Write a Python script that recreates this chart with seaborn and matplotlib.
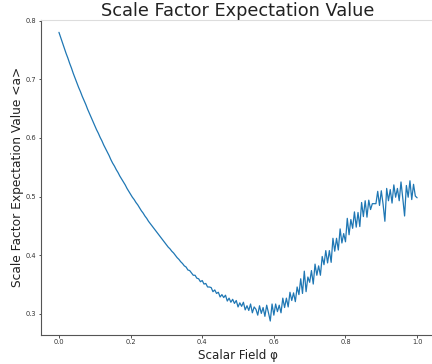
import numpy as np
import pandas as pd
import matplotlib
matplotlib.use("Agg")
import matplotlib.pyplot as plt
import seaborn as sns

# Scale factor expectation value <a>, sampled every 0.005 in phi from 0 to 1
a_smooth = [
    0.780, 0.771, 0.762, 0.753, 0.744, 0.736, 0.727, 0.719, 0.710, 0.702,
    0.694, 0.686, 0.679, 0.671, 0.664, 0.657, 0.649, 0.642, 0.635, 0.628,
    0.621, 0.614, 0.608, 0.601, 0.595, 0.588, 0.582, 0.576, 0.570, 0.563,
    0.557, 0.552, 0.546, 0.541, 0.535, 0.530, 0.525, 0.520, 0.514, 0.509,
    0.504, 0.499, 0.495, 0.490, 0.486, 0.481, 0.476, 0.472, 0.467, 0.463,
    0.458, 0.454, 0.450, 0.446, 0.442, 0.438, 0.434, 0.430, 0.426, 0.422,
    0.418, 0.414, 0.411, 0.407, 0.404, 0.400, 0.396, 0.393, 0.389, 0.386,
    0.382,
]
a_noisy = [
    0.380, 0.375, 0.374, 0.370, 0.366, 0.366, 0.361, 0.360, 0.355, 0.357,
    0.351, 0.352, 0.346, 0.346, 0.345, 0.338, 0.341, 0.335, 0.337, 0.329,
    0.333, 0.328, 0.332, 0.322, 0.327, 0.320, 0.325, 0.318, 0.323, 0.312,
    0.319, 0.313, 0.320, 0.307, 0.314, 0.306, 0.317, 0.302, 0.312, 0.308,
    0.298, 0.314, 0.301, 0.311, 0.296, 0.315, 0.302, 0.288, 0.317, 0.298,
    0.317, 0.304, 0.315, 0.302, 0.327, 0.311, 0.327, 0.312, 0.337, 0.323,
    0.336, 0.321, 0.346, 0.333, 0.360, 0.335, 0.373, 0.338, 0.363, 0.354,
    0.374, 0.351, 0.385, 0.366, 0.382, 0.366, 0.398, 0.384, 0.408, 0.387,
    0.408, 0.388, 0.429, 0.407, 0.429, 0.409, 0.445, 0.421, 0.437, 0.423,
    0.463, 0.435, 0.461, 0.446, 0.474, 0.448, 0.473, 0.449, 0.490, 0.466,
    0.493, 0.465, 0.494, 0.478, 0.488, 0.488, 0.488, 0.509, 0.485, 0.510,
    0.487, 0.458, 0.514, 0.493, 0.512, 0.489, 0.520, 0.499, 0.514, 0.493,
    0.525, 0.497, 0.467, 0.519, 0.499, 0.527, 0.495, 0.521, 0.501, 0.498,
]
a_values = a_smooth + a_noisy
phi_values = np.round(np.arange(len(a_values)) * 0.005, 3)

title = "Scale Factor Expectation Value"
xlabel = "Scalar Field φ"
ylabel = "Scale Factor Expectation Value <a>"

df = pd.DataFrame({"phi": phi_values, "a": a_values})

sns.set_style("ticks")
plt.rcParams["font.family"] = ["DejaVu Sans"]

fig = plt.figure(figsize=(4.32, 3.64), dpi=100)
ax = fig.add_axes([0.095, 0.081, 0.912, 0.864])

sns.lineplot(data=df, x="phi", y="a", ax=ax, color="#1f77b4",
             linewidth=0.9, errorbar=None)

ax.set_xlim(-0.05, 1.05)
ax.set_ylim(0.265, 0.801)
ax.set_xticks([0.0, 0.2, 0.4, 0.6, 0.8, 1.0])
ax.set_yticks([0.3, 0.4, 0.5, 0.6, 0.7, 0.8])
ax.tick_params(labelsize=4.8, colors="#333333", length=1.8, width=0.6, pad=1.5)
for s in ax.spines.values():
    s.set_color("#555555")
    s.set_linewidth(0.8)
ax.spines["top"].set_color("#dddddd")

ax.set_title(title, fontsize=12.8, color="#222222", pad=3)
ax.set_xlabel(xlabel, fontsize=8.6, color="#222222", labelpad=2.5)
ax.set_ylabel(ylabel, fontsize=8.8, color="#222222", labelpad=1)

fig.savefig("out.png", dpi=100)
